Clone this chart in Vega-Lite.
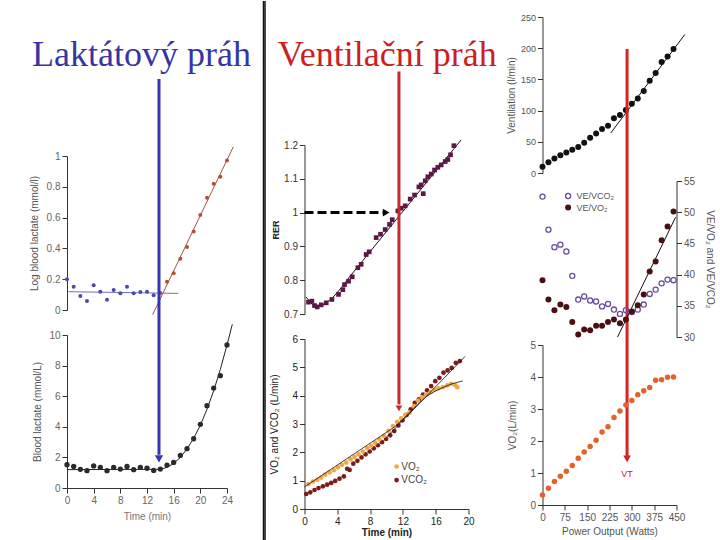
{
  "$schema": "https://vega.github.io/schema/vega-lite/v6.json",
  "background": "white",
  "padding": {"left": 29, "top": 0, "right": 0, "bottom": 0},
  "config": {
    "view": {"stroke": null},
    "axis": {"labelFont": "Liberation Sans", "titleFont": "Liberation Sans", "labelFontSize": 10, "titleFontSize": 10, "titleFontWeight": "normal", "labelColor": "#555555", "titleColor": "#444444", "domainColor": "#333333", "tickColor": "#333333", "tickSize": 5, "labelPadding": 2, "grid": false, "labelFlush": false, "labelOverlap": false},
    "title": {"font": "Liberation Sans"}
  },
  "datasets": {
    "logLactate": [
      {"time": 0, "value": 0.199, "phase": "below"}, {"time": 1, "value": 0.151, "phase": "below"}, {"time": 2, "value": 0.091, "phase": "below"}, {"time": 3, "value": 0.058, "phase": "below"}, {"time": 4, "value": 0.16, "phase": "below"}, {"time": 5, "value": 0.119, "phase": "below"}, {"time": 6, "value": 0.067, "phase": "below"}, {"time": 7, "value": 0.13, "phase": "below"}, {"time": 8, "value": 0.108, "phase": "below"}, {"time": 9, "value": 0.151, "phase": "below"}, {"time": 10, "value": 0.108, "phase": "below"}, {"time": 11, "value": 0.117, "phase": "below"}, {"time": 12, "value": 0.119, "phase": "below"}, {"time": 13, "value": 0.095, "phase": "below"},
      {"time": 14, "value": 0.11, "phase": "above"}, {"time": 15, "value": 0.184, "phase": "above"}, {"time": 16, "value": 0.238, "phase": "above"}, {"time": 17, "value": 0.333, "phase": "above"}, {"time": 18, "value": 0.409, "phase": "above"}, {"time": 19, "value": 0.509, "phase": "above"}, {"time": 20, "value": 0.617, "phase": "above"}, {"time": 21, "value": 0.729, "phase": "above"}, {"time": 22, "value": 0.82, "phase": "above"}, {"time": 23, "value": 0.866, "phase": "above"}, {"time": 24, "value": 0.97, "phase": "above"}
    ],
    "logFit": [
      {"time": 0.2, "value": 0.119, "phase": "below"}, {"time": 16.7, "value": 0.108, "phase": "below"},
      {"time": 12.85, "value": -0.03, "phase": "above"}, {"time": 24.95, "value": 1.06, "phase": "above"}
    ],
    "lactate": [
      {"time": 0, "value": 1.52}, {"time": 1, "value": 1.41}, {"time": 2, "value": 1.22}, {"time": 3, "value": 1.13}, {"time": 4, "value": 1.44}, {"time": 5, "value": 1.35}, {"time": 6, "value": 1.13}, {"time": 7, "value": 1.35}, {"time": 8, "value": 1.24}, {"time": 9, "value": 1.41}, {"time": 10, "value": 1.2}, {"time": 11, "value": 1.35}, {"time": 12, "value": 1.29}, {"time": 13, "value": 1.15}, {"time": 14, "value": 1.24}, {"time": 15, "value": 1.5}, {"time": 16, "value": 1.67}, {"time": 17, "value": 2.13}, {"time": 18, "value": 2.57}, {"time": 19, "value": 3.22}, {"time": 20, "value": 4.16}, {"time": 21, "value": 5.38}, {"time": 22, "value": 6.53}, {"time": 23, "value": 7.34}, {"time": 24, "value": 9.35}
    ],
    "lactateFit": [
      {"time": 0, "value": 1.2}, {"time": 14, "value": 1.22}, {"time": 15, "value": 1.35}, {"time": 16, "value": 1.6}, {"time": 17, "value": 2.0}, {"time": 18, "value": 2.55}, {"time": 19, "value": 3.25}, {"time": 20, "value": 4.1}, {"time": 21, "value": 5.15}, {"time": 22, "value": 6.35}, {"time": 23, "value": 7.75}, {"time": 24, "value": 9.35}, {"time": 24.8, "value": 10.7}
    ],
    "rer": [
      {"time": 0.49, "value": 0.735}, {"time": 0.9, "value": 0.738}, {"time": 1.22, "value": 0.725}, {"time": 1.55, "value": 0.721}, {"time": 2.04, "value": 0.727}, {"time": 2.65, "value": 0.733}, {"time": 3.34, "value": 0.743}, {"time": 4.15, "value": 0.758}, {"time": 4.68, "value": 0.772}, {"time": 4.88, "value": 0.787}, {"time": 5.37, "value": 0.797}, {"time": 5.82, "value": 0.81}, {"time": 6.51, "value": 0.837}, {"time": 6.91, "value": 0.847}, {"time": 7.52, "value": 0.876}, {"time": 7.89, "value": 0.884}, {"time": 8.74, "value": 0.926}, {"time": 9.27, "value": 0.936}, {"time": 9.84, "value": 0.95}, {"time": 10.37, "value": 0.965}, {"time": 10.7, "value": 0.979}, {"time": 11.39, "value": 1.005}, {"time": 11.79, "value": 1.013}, {"time": 12.28, "value": 1.02}, {"time": 12.89, "value": 1.04}, {"time": 13.42, "value": 1.052}, {"time": 13.95, "value": 1.076}, {"time": 14.48, "value": 1.056}, {"time": 14.23, "value": 1.082}, {"time": 14.72, "value": 1.094}, {"time": 15.04, "value": 1.106}, {"time": 15.45, "value": 1.114}, {"time": 15.86, "value": 1.126}, {"time": 16.26, "value": 1.134}, {"time": 16.67, "value": 1.141}, {"time": 17.16, "value": 1.151}, {"time": 17.48, "value": 1.157}, {"time": 17.81, "value": 1.171}, {"time": 18.22, "value": 1.198}
    ],
    "rerFit": [
      {"time": 0.2, "value": 0.75}, {"time": 1.0, "value": 0.727}, {"time": 1.7, "value": 0.722}, {"time": 2.5, "value": 0.73}, {"time": 3.5, "value": 0.75}, {"time": 4.5, "value": 0.778}, {"time": 5.5, "value": 0.81}, {"time": 19.1, "value": 1.215}
    ],
    "gas": [
      {"time": 0.49, "value": 0.88, "gas": "VO2"}, {"time": 1.02, "value": 0.97, "gas": "VO2"}, {"time": 1.55, "value": 1.03, "gas": "VO2"}, {"time": 2.04, "value": 1.11, "gas": "VO2"}, {"time": 2.52, "value": 1.21, "gas": "VO2"}, {"time": 3.05, "value": 1.29, "gas": "VO2"}, {"time": 3.58, "value": 1.37, "gas": "VO2"}, {"time": 4.07, "value": 1.47, "gas": "VO2"}, {"time": 4.56, "value": 1.56, "gas": "VO2"}, {"time": 5.09, "value": 1.64, "gas": "VO2"}, {"time": 5.61, "value": 1.76, "gas": "VO2"}, {"time": 6.1, "value": 1.84, "gas": "VO2"}, {"time": 6.59, "value": 1.93, "gas": "VO2"}, {"time": 7.12, "value": 2.03, "gas": "VO2"}, {"time": 7.65, "value": 2.15, "gas": "VO2"}, {"time": 8.13, "value": 2.23, "gas": "VO2"}, {"time": 8.62, "value": 2.34, "gas": "VO2"}, {"time": 9.15, "value": 2.46, "gas": "VO2"}, {"time": 9.68, "value": 2.58, "gas": "VO2"}, {"time": 10.25, "value": 2.76, "gas": "VO2"}, {"time": 10.78, "value": 2.93, "gas": "VO2"}, {"time": 11.3, "value": 3.08, "gas": "VO2"}, {"time": 11.79, "value": 3.2, "gas": "VO2"}, {"time": 12.28, "value": 3.32, "gas": "VO2"}, {"time": 12.81, "value": 3.4, "gas": "VO2"}, {"time": 13.34, "value": 3.63, "gas": "VO2"}, {"time": 13.83, "value": 3.83, "gas": "VO2"}, {"time": 14.31, "value": 3.95, "gas": "VO2"}, {"time": 14.84, "value": 4.04, "gas": "VO2"}, {"time": 15.37, "value": 4.13, "gas": "VO2"}, {"time": 15.86, "value": 4.21, "gas": "VO2"}, {"time": 16.35, "value": 4.26, "gas": "VO2"}, {"time": 16.87, "value": 4.3, "gas": "VO2"}, {"time": 17.4, "value": 4.36, "gas": "VO2"}, {"time": 17.89, "value": 4.42, "gas": "VO2"}, {"time": 18.38, "value": 4.37, "gas": "VO2"}, {"time": 18.62, "value": 4.3, "gas": "VO2"},
      {"time": 0.21, "value": 0.53, "gas": "VCO2"}, {"time": 0.7, "value": 0.59, "gas": "VCO2"}, {"time": 1.22, "value": 0.67, "gas": "VCO2"}, {"time": 1.71, "value": 0.74, "gas": "VCO2"}, {"time": 2.24, "value": 0.8, "gas": "VCO2"}, {"time": 2.77, "value": 0.86, "gas": "VCO2"}, {"time": 3.26, "value": 0.92, "gas": "VCO2"}, {"time": 3.74, "value": 0.99, "gas": "VCO2"}, {"time": 4.27, "value": 1.07, "gas": "VCO2"}, {"time": 4.8, "value": 1.15, "gas": "VCO2"}, {"time": 5.2, "value": 1.42, "gas": "VCO2"}, {"time": 5.5, "value": 1.38, "gas": "VCO2"}, {"time": 5.95, "value": 1.6, "gas": "VCO2"}, {"time": 6.45, "value": 1.7, "gas": "VCO2"}, {"time": 6.95, "value": 1.82, "gas": "VCO2"}, {"time": 7.45, "value": 1.93, "gas": "VCO2"}, {"time": 7.95, "value": 2.03, "gas": "VCO2"}, {"time": 8.45, "value": 2.14, "gas": "VCO2"}, {"time": 8.95, "value": 2.25, "gas": "VCO2"}, {"time": 9.45, "value": 2.36, "gas": "VCO2"}, {"time": 9.95, "value": 2.47, "gas": "VCO2"}, {"time": 10.45, "value": 2.6, "gas": "VCO2"}, {"time": 10.95, "value": 2.75, "gas": "VCO2"}, {"time": 11.45, "value": 2.95, "gas": "VCO2"}, {"time": 11.95, "value": 3.13, "gas": "VCO2"}, {"time": 12.45, "value": 3.32, "gas": "VCO2"}, {"time": 12.95, "value": 3.52, "gas": "VCO2"}, {"time": 13.45, "value": 3.75, "gas": "VCO2"}, {"time": 13.95, "value": 3.87, "gas": "VCO2"}, {"time": 14.45, "value": 4.04, "gas": "VCO2"}, {"time": 14.95, "value": 4.19, "gas": "VCO2"}, {"time": 15.45, "value": 4.34, "gas": "VCO2"}, {"time": 15.95, "value": 4.51, "gas": "VCO2"}, {"time": 16.45, "value": 4.63, "gas": "VCO2"}, {"time": 16.95, "value": 4.81, "gas": "VCO2"}, {"time": 17.45, "value": 4.89, "gas": "VCO2"}, {"time": 17.95, "value": 4.98, "gas": "VCO2"}, {"time": 18.45, "value": 5.16, "gas": "VCO2"}, {"time": 18.95, "value": 5.22, "gas": "VCO2"}
    ],
    "gasFit": [
      {"time": 0, "value": 0.78, "line": "VO2 fit"}, {"time": 11, "value": 2.9, "line": "VO2 fit"}, {"time": 13, "value": 3.45, "line": "VO2 fit"}, {"time": 14, "value": 3.75, "line": "VO2 fit"}, {"time": 15, "value": 4.0, "line": "VO2 fit"}, {"time": 16, "value": 4.17, "line": "VO2 fit"}, {"time": 17, "value": 4.3, "line": "VO2 fit"}, {"time": 18, "value": 4.42, "line": "VO2 fit"}, {"time": 19.3, "value": 4.52, "line": "VO2 fit"},
      {"time": 9.96, "value": 2.52, "line": "VCO2 fit"}, {"time": 19.6, "value": 5.39, "line": "VCO2 fit"}
    ],
    "ventilation": [
      {"power": 0, "value": 10.0}, {"power": 20, "value": 17.4}, {"power": 40, "value": 23.2}, {"power": 60, "value": 28.5}, {"power": 80, "value": 32.7}, {"power": 100, "value": 37.4}, {"power": 120, "value": 41.7}, {"power": 140, "value": 48.5}, {"power": 160, "value": 56.4}, {"power": 180, "value": 63.3}, {"power": 200, "value": 70.7}, {"power": 220, "value": 75.9}, {"power": 240, "value": 87.6}, {"power": 260, "value": 92.8}, {"power": 280, "value": 101}, {"power": 300, "value": 110.8}, {"power": 320, "value": 119.2}, {"power": 340, "value": 131.3}, {"power": 360, "value": 147.7}, {"power": 380, "value": 160.4}, {"power": 400, "value": 177.8}, {"power": 420, "value": 186.7}, {"power": 440, "value": 198.9}
    ],
    "ventFit": [{"power": 229, "value": 64}, {"power": 478, "value": 222}],
    "equivalents": [
      {"power": 0, "value": 52.5, "ratio": "VE/VCO2"}, {"power": 20, "value": 47.2, "ratio": "VE/VCO2"}, {"power": 40, "value": 44.4, "ratio": "VE/VCO2"}, {"power": 60, "value": 44.8, "ratio": "VE/VCO2"}, {"power": 80, "value": 43.7, "ratio": "VE/VCO2"}, {"power": 100, "value": 39.8, "ratio": "VE/VCO2"}, {"power": 120, "value": 36.0, "ratio": "VE/VCO2"}, {"power": 140, "value": 36.5, "ratio": "VE/VCO2"}, {"power": 160, "value": 35.85, "ratio": "VE/VCO2"}, {"power": 180, "value": 35.7, "ratio": "VE/VCO2"}, {"power": 200, "value": 34.9, "ratio": "VE/VCO2"}, {"power": 220, "value": 35.3, "ratio": "VE/VCO2"}, {"power": 240, "value": 34.4, "ratio": "VE/VCO2"}, {"power": 260, "value": 33.7, "ratio": "VE/VCO2"}, {"power": 280, "value": 34.3, "ratio": "VE/VCO2"}, {"power": 300, "value": 34.0, "ratio": "VE/VCO2"}, {"power": 320, "value": 34.4, "ratio": "VE/VCO2"}, {"power": 340, "value": 35.2, "ratio": "VE/VCO2"}, {"power": 360, "value": 36.9, "ratio": "VE/VCO2"}, {"power": 380, "value": 37.6, "ratio": "VE/VCO2"}, {"power": 400, "value": 38.6, "ratio": "VE/VCO2"}, {"power": 420, "value": 39.2, "ratio": "VE/VCO2"}, {"power": 440, "value": 39.1, "ratio": "VE/VCO2"},
      {"power": 0, "value": 39.1, "ratio": "VE/VO2"}, {"power": 20, "value": 36.0, "ratio": "VE/VO2"}, {"power": 40, "value": 34.3, "ratio": "VE/VO2"}, {"power": 60, "value": 35.2, "ratio": "VE/VO2"}, {"power": 80, "value": 34.8, "ratio": "VE/VO2"}, {"power": 100, "value": 32.4, "ratio": "VE/VO2"}, {"power": 120, "value": 30.4, "ratio": "VE/VO2"}, {"power": 140, "value": 31.2, "ratio": "VE/VO2"}, {"power": 160, "value": 31.1, "ratio": "VE/VO2"}, {"power": 180, "value": 31.8, "ratio": "VE/VO2"}, {"power": 200, "value": 31.8, "ratio": "VE/VO2"}, {"power": 220, "value": 32.4, "ratio": "VE/VO2"}, {"power": 240, "value": 32.8, "ratio": "VE/VO2"}, {"power": 260, "value": 32.2, "ratio": "VE/VO2"}, {"power": 280, "value": 32.8, "ratio": "VE/VO2"}, {"power": 300, "value": 34.1, "ratio": "VE/VO2"}, {"power": 320, "value": 35.1, "ratio": "VE/VO2"}, {"power": 340, "value": 36.8, "ratio": "VE/VO2"}, {"power": 360, "value": 40.5, "ratio": "VE/VO2"}, {"power": 380, "value": 42.1, "ratio": "VE/VO2"}, {"power": 400, "value": 45.5, "ratio": "VE/VO2"}, {"power": 420, "value": 47.7, "ratio": "VE/VO2"}, {"power": 440, "value": 50.1, "ratio": "VE/VO2"}
    ],
    "equivFit": [{"power": 252, "value": 30}, {"power": 447, "value": 49.2}],
    "vo2": [
      {"power": 0, "value": 0.316}, {"power": 20, "value": 0.526}, {"power": 40, "value": 0.737}, {"power": 60, "value": 0.895}, {"power": 80, "value": 1.053}, {"power": 100, "value": 1.232}, {"power": 120, "value": 1.463}, {"power": 140, "value": 1.653}, {"power": 160, "value": 1.832}, {"power": 180, "value": 2.021}, {"power": 200, "value": 2.284}, {"power": 220, "value": 2.442}, {"power": 240, "value": 2.737}, {"power": 260, "value": 2.937}, {"power": 280, "value": 3.126}, {"power": 300, "value": 3.263}, {"power": 320, "value": 3.442}, {"power": 340, "value": 3.568}, {"power": 360, "value": 3.674}, {"power": 380, "value": 3.895}, {"power": 400, "value": 3.916}, {"power": 420, "value": 3.989}, {"power": 440, "value": 4.0}
    ]
  },
  "spacing": -1.5,
  "hconcat": [
    {
      "spacing": 25,
      "bounds": "flush",
      "vconcat": [
        {
          "width": 160, "height": 114,
          "encoding": {
            "x": {"field": "time", "type": "quantitative", "scale": {"domain": [0, 24], "nice": false, "zero": false}, "axis": null},
            "y": {"field": "value", "type": "quantitative", "scale": {"domain": [0, 1], "nice": false, "zero": false}, "axis": null}
          },
          "layer": [
            {"data": {"values": [{"time": 29.475, "value": 1.1404, "value2": -3.5965}]}, "mark": {"type": "rule", "clip": false, "color": "#111111", "strokeWidth": 1.5}, "encoding": {"y2": {"field": "value2"}}},
            {"data": {"values": [{"time": 11.17, "value": 0.5702, "label": "Laktátový práh"}]}, "mark": {"type": "text", "clip": false, "font": "Liberation Serif", "fontSize": 36, "color": "#3535a5", "align": "center", "baseline": "alphabetic"}, "encoding": {"text": {"field": "label"}}}
          ]
        },
        {
          "width": 160, "height": 154,
          "encoding": {
            "x": {"field": "time", "type": "quantitative", "scale": {"domain": [0, 24], "nice": false, "zero": false}, "axis": null},
            "y": {"field": "value", "type": "quantitative", "scale": {"domain": [0, 1], "nice": false, "zero": false}, "axis": {"values": [0, 0.2, 0.4, 0.6, 0.8, 1], "format": ".1~f", "title": "Log blood lactate (mmol/l)", "titlePadding": 7, "labelColor": "#666666", "titleColor": "#555555"}}
          },
          "layer": [
            {"data": {"name": "logFit"}, "transform": [{"filter": "datum.phase === 'below'"}], "mark": {"type": "line", "clip": false, "color": "#6b70b8", "strokeWidth": 1}},
            {"data": {"name": "logFit"}, "transform": [{"filter": "datum.phase === 'above'"}], "mark": {"type": "line", "clip": false, "color": "#a0553f", "strokeWidth": 1}},
            {"data": {"name": "logLactate"}, "transform": [{"filter": "datum.phase === 'below'"}], "mark": {"type": "point", "filled": true, "size": 16, "opacity": 1, "color": "#4a4aa8"}},
            {"data": {"name": "logLactate"}, "transform": [{"filter": "datum.phase === 'above'"}], "mark": {"type": "point", "filled": true, "size": 16, "opacity": 1, "color": "#b0503a"}},
            {"data": {"values": [{"time": 13.8, "value": 1.5, "value2": -0.94}]}, "mark": {"type": "rule", "clip": false, "color": "#3434b4", "strokeWidth": 3}, "encoding": {"y2": {"field": "value2"}}}
          ]
        },
        {
          "width": 160, "height": 153,
          "encoding": {
            "x": {"field": "time", "type": "quantitative", "scale": {"domain": [0, 24], "nice": false, "zero": false}, "axis": {"values": [0, 4, 8, 12, 16, 20, 24], "title": "Time (min)", "titlePadding": 6, "labelColor": "#666666", "titleColor": "#777777"}},
            "y": {"field": "value", "type": "quantitative", "scale": {"domain": [0, 10], "nice": false, "zero": false}, "axis": {"values": [0, 2, 4, 6, 8, 10], "title": "Blood lactate (mmol/L)", "titlePadding": 6, "labelColor": "#666666", "titleColor": "#555555"}}
          },
          "layer": [
            {"data": {"name": "lactateFit"}, "mark": {"type": "line", "clip": false, "color": "#222222", "strokeWidth": 1}},
            {"data": {"name": "lactate"}, "mark": {"type": "point", "filled": true, "size": 28, "opacity": 1, "color": "#2a2a2a"}},
            {"data": {"values": [{"time": 13.8, "value": 1.91}]}, "mark": {"type": "point", "shape": "triangle-down", "filled": true, "size": 70, "opacity": 1, "color": "#3434b4", "clip": false}}
          ]
        }
      ]
    },
    {
      "spacing": 8,
      "hconcat": [
        {
          "spacing": 25,
          "bounds": "flush",
          "vconcat": [
            {
              "width": 164, "height": 103,
              "encoding": {
                "x": {"field": "time", "type": "quantitative", "scale": {"domain": [0, 20], "nice": false, "zero": false}, "axis": null},
                "y": {"field": "value", "type": "quantitative", "scale": {"domain": [0, 1], "nice": false, "zero": false}, "axis": null}
              },
              "layer": [
                {"data": {"values": [{"time": -4.817, "value": 1.1553, "value2": -4.0874}]}, "mark": {"type": "rule", "clip": false, "color": "#111111", "strokeWidth": 1.5}, "encoding": {"y2": {"field": "value2"}}},
                {"data": {"values": [{"time": 10.09, "value": 0.5243, "label": "Ventilační práh"}]}, "mark": {"type": "text", "clip": false, "font": "Liberation Serif", "fontSize": 36, "color": "#cc1f1f", "align": "center", "baseline": "alphabetic"}, "encoding": {"text": {"field": "label"}}}
              ]
            },
            {
              "width": 164, "height": 169,
              "encoding": {
                "x": {"field": "time", "type": "quantitative", "scale": {"domain": [0, 20], "nice": false, "zero": false}, "axis": null},
                "y": {"field": "value", "type": "quantitative", "scale": {"domain": [0.7, 1.2], "nice": false, "zero": false}, "axis": {"values": [0.7, 0.8, 0.9, 1, 1.1, 1.2], "format": ".1~f", "title": "RER", "titleFontWeight": "bold", "titleFontSize": 9, "titlePadding": 3, "labelColor": "#333333", "titleColor": "#222222"}}
              },
              "layer": [
                {"data": {"name": "rerFit"}, "mark": {"type": "line", "clip": false, "color": "#111111", "strokeWidth": 1}},
                {"data": {"name": "rer"}, "mark": {"type": "point", "shape": "square", "filled": true, "size": 22, "opacity": 1, "color": "#5c1746"}},
                {"data": {"values": [{"time": 0, "time2": 9.56, "value": 1}]}, "mark": {"type": "rule", "clip": false, "color": "#000000", "strokeWidth": 3, "strokeDash": [9, 4]}, "encoding": {"x2": {"field": "time2"}}},
                {"data": {"values": [{"time": 9.96, "value": 1}]}, "mark": {"type": "point", "shape": "triangle-right", "filled": true, "size": 60, "opacity": 1, "color": "#000000"}},
                {"data": {"values": [{"time": 11.52, "value": 1.4176, "value2": 0.432}]}, "mark": {"type": "rule", "clip": false, "color": "#c62a2a", "strokeWidth": 3}, "encoding": {"y2": {"field": "value2"}}}
              ]
            },
            {
              "width": 164, "height": 170,
              "encoding": {
                "x": {"field": "time", "type": "quantitative", "scale": {"domain": [0, 20], "nice": false, "zero": false}, "axis": {"values": [0, 4, 8, 12, 16, 20], "title": "Time (min)", "titleFontWeight": "bold", "titlePadding": 1, "labelColor": "#222222", "titleColor": "#222222"}},
                "y": {"field": "value", "type": "quantitative", "scale": {"domain": [0, 6], "nice": false, "zero": false}, "axis": {"values": [0, 1, 2, 3, 4, 5, 6], "title": "VO₂ and VCO₂ (L/min)", "titlePadding": 12, "labelColor": "#222222", "titleColor": "#222222"}}
              },
              "layer": [
                {"data": {"name": "gas"}, "transform": [{"filter": "datum.gas === 'VCO2'"}], "mark": {"type": "point", "filled": true, "size": 22, "opacity": 1, "color": "#7b1c1c"}},
                {"data": {"name": "gas"}, "transform": [{"filter": "datum.gas === 'VO2'"}], "mark": {"type": "point", "filled": true, "size": 22, "opacity": 1, "color": "#f3a646"}},
                {"data": {"name": "gasFit"}, "mark": {"type": "line", "clip": false, "color": "#111111", "strokeWidth": 0.8}, "encoding": {"detail": {"field": "line"}}},
                {"data": {"values": [{"time": 11.23, "value": 1.5}]}, "mark": {"type": "point", "filled": true, "size": 22, "opacity": 1, "color": "#f3a646"}},
                {"data": {"values": [{"time": 11.23, "value": 1.02}]}, "mark": {"type": "point", "filled": true, "size": 22, "opacity": 1, "color": "#7b1c1c"}},
                {"data": {"values": [{"time": 11.8, "value": 1.5, "label": "VO₂"}, {"time": 11.8, "value": 1.02, "label": "VCO₂"}]}, "mark": {"type": "text", "align": "left", "baseline": "middle", "fontSize": 10, "font": "Liberation Sans", "color": "#444444"}, "encoding": {"text": {"field": "label"}}},
                {"data": {"values": [{"time": 11.52, "value": 3.55}]}, "mark": {"type": "point", "shape": "triangle-down", "filled": true, "size": 45, "opacity": 1, "color": "#c62a2a"}}
              ]
            }
          ]
        },
        {
          "spacing": 8,
          "bounds": "flush",
          "vconcat": [
            {
              "width": 134, "height": 156,
              "encoding": {
                "x": {"field": "power", "type": "quantitative", "scale": {"domain": [0, 450], "nice": false, "zero": false}, "axis": null},
                "y": {"field": "value", "type": "quantitative", "scale": {"domain": [0, 250], "nice": false, "zero": false}, "axis": {"values": [0, 50, 100, 150, 200, 250], "title": "Ventilation (l/min)", "titlePadding": 4, "labelFontSize": 9, "labelColor": "#555555", "titleColor": "#555555"}}
              },
              "layer": [
                {"data": {"name": "ventilation"}, "mark": {"type": "point", "filled": true, "size": 36, "opacity": 1, "color": "#111111"}},
                {"data": {"name": "ventFit"}, "mark": {"type": "line", "clip": false, "color": "#111111", "strokeWidth": 1}},
                {"data": {"values": [{"power": 284, "value": 198.7, "value2": -453.5}]}, "mark": {"type": "rule", "clip": false, "color": "#d42424", "strokeWidth": 3}, "encoding": {"y2": {"field": "value2"}}}
              ]
            },
            {
              "width": 134, "height": 156,
              "encoding": {
                "x": {"field": "power", "type": "quantitative", "scale": {"domain": [0, 450], "nice": false, "zero": false}, "axis": null},
                "y": {"field": "value", "type": "quantitative", "scale": {"domain": [30, 55], "nice": false, "zero": false}, "axis": {"orient": "right", "values": [30, 35, 40, 45, 50, 55], "title": "VE/VO₂ and VE/VCO₂", "titlePadding": 10, "labelColor": "#555555", "titleColor": "#555555"}}
              },
              "layer": [
                {"data": {"name": "equivFit"}, "mark": {"type": "line", "clip": false, "color": "#111111", "strokeWidth": 1}},
                {"data": {"name": "equivalents"}, "transform": [{"filter": "datum.ratio === 'VE/VCO2'"}], "mark": {"type": "point", "filled": false, "size": 26, "strokeWidth": 1.3, "opacity": 1, "color": "#6a4c9c"}},
                {"data": {"name": "equivalents"}, "transform": [{"filter": "datum.ratio === 'VE/VO2'"}], "mark": {"type": "point", "filled": true, "size": 36, "opacity": 1, "color": "#4a0f12"}},
                {"data": {"values": [{"power": 86, "value": 52.6}]}, "mark": {"type": "point", "filled": false, "size": 26, "strokeWidth": 1.3, "opacity": 1, "color": "#6a4c9c"}},
                {"data": {"values": [{"power": 86, "value": 50.75}]}, "mark": {"type": "point", "filled": true, "size": 36, "opacity": 1, "color": "#4a0f12"}},
                {"data": {"values": [{"power": 114, "value": 52.6, "label": "VE/VCO₂"}, {"power": 114, "value": 50.75, "label": "VE/VO₂"}]}, "mark": {"type": "text", "align": "left", "baseline": "middle", "fontSize": 9, "font": "Liberation Sans", "color": "#555555"}, "encoding": {"text": {"field": "label"}}}
              ]
            },
            {
              "width": 134, "height": 160,
              "encoding": {
                "x": {"field": "power", "type": "quantitative", "scale": {"domain": [0, 450], "nice": false, "zero": false}, "axis": {"values": [0, 75, 150, 225, 300, 375, 450], "title": "Power Output (Watts)", "titlePadding": 4, "labelColor": "#555555", "titleColor": "#555555"}},
                "y": {"field": "value", "type": "quantitative", "scale": {"domain": [0, 5], "nice": false, "zero": false}, "axis": {"values": [0, 1, 2, 3, 4, 5], "title": "VO₂(L/min)", "titlePadding": 12, "labelColor": "#555555", "titleColor": "#555555"}}
              },
              "layer": [
                {"data": {"name": "vo2"}, "mark": {"type": "point", "filled": true, "size": 30, "opacity": 1, "color": "#e2622c"}},
                {"data": {"values": [{"power": 284, "value": 1.44}]}, "mark": {"type": "point", "shape": "triangle-down", "filled": true, "size": 60, "opacity": 1, "color": "#d42424"}},
                {"data": {"values": [{"power": 284, "value": 0.97, "label": "VT"}]}, "mark": {"type": "text", "align": "center", "baseline": "middle", "fontSize": 9, "font": "Liberation Sans", "color": "#c02020"}, "encoding": {"text": {"field": "label"}}}
              ]
            }
          ]
        }
      ]
    }
  ]
}
